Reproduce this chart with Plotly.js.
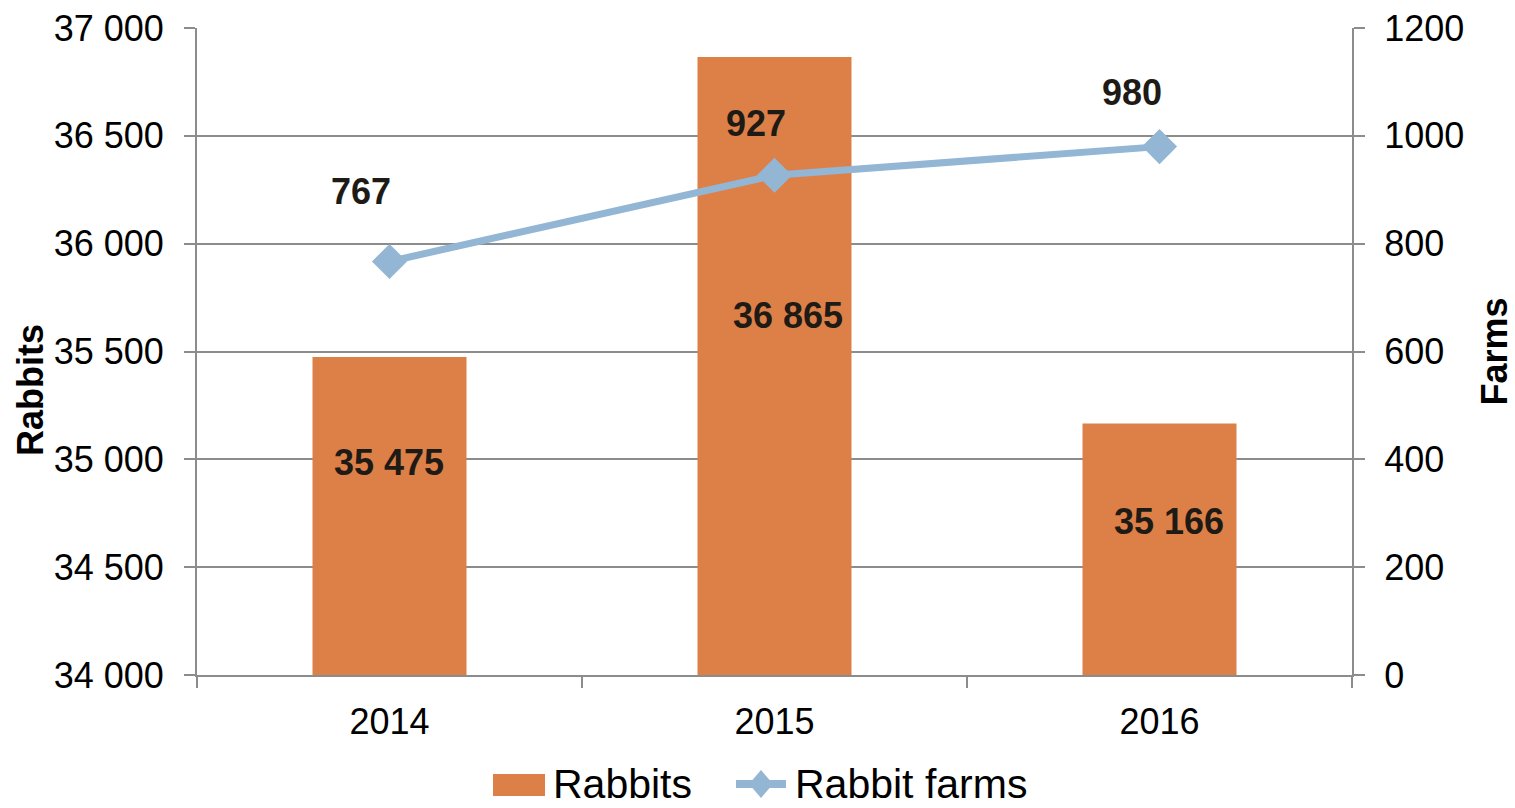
<!DOCTYPE html>
<html>
<head>
<meta charset="utf-8">
<script src="https://cdn.plot.ly/plotly-3.0.1.min.js"></script>
<style>
html,body{margin:0;padding:0;background:#fff;}
#chart{width:1515px;height:808px;}
</style>
</head>
<body>
<div id="chart"></div>
<script>
// ---- data ----
var years = ['2014', '2015', '2016'];
var rabbits = [35475, 36865, 35166];
var farms = [767, 927, 980];
var leftTicks = [34000, 34500, 35000, 35500, 36000, 36500, 37000];
var rightTicks = [0, 200, 400, 600, 800, 1000, 1200];
var seriesNames = ['Rabbits', 'Rabbit farms'];
var axisTitles = ['Rabbits', 'Farms'];

// ---- label offsets (px, styling only) ----
var barLabelShift = [[-1, -106], [13, -258], [9, -98]];
var lineLabelShift = [[-29, 70], [-19, 52], [-28, 54]];

function fmt(n) { return String(n).replace(/\B(?=(\d{3})+(?!\d))/g, ' '); }

var W = 1515, H = 808;
var M = {l: 197, r: 163, t: 28, b: 133};
var PW = W - M.l - M.r, PH = H - M.t - M.b;
function px(x) { return (x - M.l) / PW; }       // pixel -> paper x
function py(y) { return (H - M.b - y) / PH; }   // pixel -> paper y

var FONT = 'Liberation Sans, Arial, sans-serif';
var GRID = '#8c8c8c';
var BAR = '#dd8047';
var LINE = '#93b6d5';
var LABEL = '#1e1a16';

var traces = [
  {
    type: 'bar', name: seriesNames[0], x: years, y: rabbits,
    marker: {color: BAR, line: {width: 0}}
  },
  {
    type: 'scatter', mode: 'lines+markers', name: seriesNames[1],
    x: years, y: farms, yaxis: 'y2',
    line: {color: LINE, width: 7},
    marker: {symbol: 'diamond', size: 27, color: LINE}
  }
];

var annotations = [];
years.forEach(function (yr, i) {
  annotations.push({
    x: i, y: rabbits[i], xref: 'x', yref: 'y', text: fmt(rabbits[i]),
    showarrow: false, xshift: barLabelShift[i][0], yshift: barLabelShift[i][1],
    font: {family: FONT, size: 36, color: LABEL, weight: 'bold'}
  });
  annotations.push({
    x: i, y: farms[i], xref: 'x', yref: 'y2', text: String(farms[i]),
    showarrow: false, xshift: lineLabelShift[i][0], yshift: lineLabelShift[i][1],
    font: {family: FONT, size: 36, color: LABEL, weight: 'bold'}
  });
});

// left axis title (placed as in the reference, slightly below centre)
annotations.push({
  xref: 'paper', yref: 'paper', x: px(30), y: py(390),
  xanchor: 'center', yanchor: 'middle', textangle: -90, showarrow: false,
  text: axisTitles[0], font: {family: FONT, size: 36, color: '#000', weight: 'bold'}
});

// ---- legend (drawn to match the reference's swatch sizes) ----
var LY = 784; // legend centre line (px)
annotations.push({
  xref: 'paper', yref: 'paper', x: px(551), y: py(LY), xanchor: 'left', yanchor: 'middle',
  showarrow: false, text: seriesNames[0], font: {family: FONT, size: 41, color: '#000'}
});
annotations.push({
  xref: 'paper', yref: 'paper', x: px(793), y: py(LY), xanchor: 'left', yanchor: 'middle',
  showarrow: false, text: seriesNames[1], font: {family: FONT, size: 41, color: '#000'}
});
var shapes = [
  {type: 'rect', xref: 'paper', yref: 'paper', x0: px(493), x1: px(545), y0: py(LY - 10), y1: py(LY + 12),
   fillcolor: BAR, line: {width: 0}},
  {type: 'line', xref: 'paper', yref: 'paper', x0: px(736), x1: px(786), y0: py(LY), y1: py(LY),
   line: {color: LINE, width: 8}},
  {type: 'path', xref: 'paper', yref: 'paper', fillcolor: LINE, line: {width: 0},
   path: 'M' + px(761) + ',' + py(LY - 14) + ' L' + px(773) + ',' + py(LY) + ' L' + px(761) + ',' + py(LY + 14) +
         ' L' + px(749) + ',' + py(LY) + ' Z'}
];

var layout = {
  width: W, height: H,
  paper_bgcolor: '#ffffff', plot_bgcolor: '#ffffff',
  margin: {l: M.l, r: M.r, t: M.t, b: M.b, pad: 0},
  font: {family: FONT, size: 36, color: '#000000'},
  separators: '. ',
  bargap: 0.6,
  showlegend: false,
  xaxis: {
    type: 'category', range: [-0.5, 2.5], autorange: false,
    showgrid: false, showline: true, linecolor: GRID, linewidth: 2,
    ticks: 'outside', tickson: 'boundaries', ticklen: 11, tickwidth: 2, tickcolor: GRID,
    tickfont: {family: FONT, size: 36, color: '#000'}, tickangle: 0,
    ticklabelstandoff: 14,
    fixedrange: true
  },
  yaxis: {
    range: [34000, 37000], autorange: false, tickvals: leftTicks, tickformat: ',d',
    showgrid: true, gridcolor: GRID, gridwidth: 2,
    showline: true, linecolor: GRID, linewidth: 2, zeroline: false,
    ticks: 'outside', ticklen: 11, tickwidth: 2, tickcolor: GRID,
    tickfont: {family: FONT, size: 36, color: '#000'},
    ticklabelstandoff: 13,
    fixedrange: true
  },
  yaxis2: {
    overlaying: 'y', side: 'right',
    range: [0, 1200], autorange: false, tickvals: rightTicks, tickformat: 'd',
    showgrid: false, showline: true, linecolor: GRID, linewidth: 2, zeroline: false,
    ticks: 'outside', ticklen: 11, tickwidth: 2, tickcolor: GRID,
    tickfont: {family: FONT, size: 36, color: '#000'},
    ticklabelstandoff: 12,
    title: {text: axisTitles[1], font: {family: FONT, size: 36, color: '#000', weight: 'bold'}, standoff: 20},
    fixedrange: true
  },
  annotations: annotations,
  shapes: shapes
};

Plotly.newPlot('chart', traces, layout, {displayModeBar: false, staticPlot: true});
</script>
</body>
</html>
